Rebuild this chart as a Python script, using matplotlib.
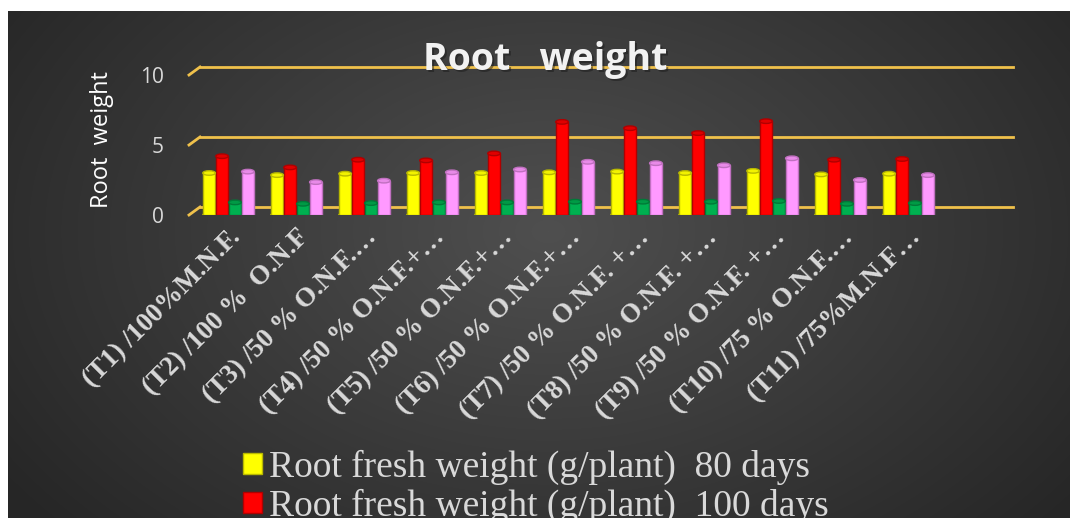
import numpy as np
import matplotlib
matplotlib.use('Agg')
import matplotlib.pyplot as plt
from matplotlib.patches import Ellipse, Patch

# treatment labels as shown on the category axis (truncated)
treatments = ['(T1) /100%M.N.F.', '(T2) /100 %  O.N.F', '(T3) /50 % O.N.F.…',
              '(T4) /50 % O.N.F.+…', '(T5) /50 % O.N.F.+…', '(T6) /50 % O.N.F.+…',
              '(T7) /50 % O.N.F. +…', '(T8) /50 % O.N.F. +…', '(T9) /50 % O.N.F. +…',
              '(T10) /75 % O.N.F.…', '(T11) /75%M.N.F…']

fresh_80 = [3.0, 2.85, 2.95, 3.0, 3.0, 3.05, 3.1, 3.0, 3.15, 2.9, 2.95]
fresh_100 = [4.2, 3.4, 3.95, 3.9, 4.4, 6.65, 6.2, 5.85, 6.7, 3.95, 4.0]
dry_80 = [0.9, 0.8, 0.85, 0.9, 0.9, 0.95, 0.95, 0.95, 1.0, 0.8, 0.85]
dry_100 = [3.1, 2.35, 2.45, 3.05, 3.25, 3.8, 3.7, 3.55, 4.05, 2.5, 2.85]

series = [fresh_80, fresh_100, dry_80, dry_100]
series_names = ['Root fresh weight (g/plant)  80 days',
                'Root fresh weight (g/plant)  100 days',
                'Root dry weight (g/plant)  80 days',
                'Root dry weight (g/plant)  100 days']
colors = ['#ffff00', '#ff0000', '#00b050', '#ff99ff']
edges = ['#b8b800', '#b00000', '#007a38', '#c070c0']
tops = ['#f2f200', '#e00000', '#009a45', '#e88ae8']

W, H = 1070, 518
fig = plt.figure(figsize=(W / 100, H / 100), dpi=100, facecolor='white')

# dark radial background panel
bg = fig.add_axes([8 / W, 0, 1 - 8 / W, 1 - 11 / H])
bg.set_axis_off()
yy, xx = np.mgrid[0:507, 0:1062]
r = np.sqrt(((xx - 540) / 620) ** 2 + ((yy - 220) / 420) ** 2)
shade = np.clip(0.31 - 0.15 * r, 0.15, 0.31)
bg.imshow(np.dstack([shade] * 3), aspect='auto', extent=[0, 1, 0, 1], origin='upper')
bg.set_xlim(0, 1)
bg.set_ylim(0, 1)

# plot area in pixel terms: value 0 at y=215, 14 px per unit, groups 68 px apart
px_unit = 14.0
x0_px, step_px = 228.5, 68.0
left_px, right_px = 189, 1013
ytop = 11.0
ax = fig.add_axes([left_px / W, (H - 215) / H, (right_px - left_px) / W, ytop * px_unit / H])
ax.set_facecolor('none')
ax.set_xlim((left_px - x0_px) / step_px, (right_px - x0_px) / step_px)
ax.set_ylim(0, ytop)
for s in ax.spines.values():
    s.set_visible(False)

# back-wall gridlines with the short depth stub at the left
dx = 11 / step_px
dy = 8 / px_unit
xl, xr = ax.get_xlim()
for v in [0, 5, 10]:
    ax.plot([xl, xl + dx], [v, v + dy], color='#f0c14b', lw=2, zorder=1, clip_on=False)
    ax.plot([xl + dx, xr], [v + dy, v + dy], color='#f0c14b', lw=2, zorder=1, clip_on=False)

x = np.arange(len(treatments))
bw = 0.185
gap = 0.19
eh = 4.5 / px_unit
for k, vals in enumerate(series):
    pos = x + (k - 1.5) * gap
    ax.bar(pos, vals, width=bw, color=colors[k], edgecolor=edges[k], linewidth=1.0, zorder=3)
    for p, v in zip(pos, vals):
        ax.add_patch(Ellipse((p, 0), bw, eh, facecolor=colors[k], edgecolor=edges[k],
                             lw=1.0, zorder=2.9))
        ax.add_patch(Ellipse((p, v), bw, eh, facecolor=tops[k], edgecolor=edges[k],
                             lw=1.0, zorder=3.1))

ax.set_yticks([0, 5, 10])
ax.set_yticklabels(['0', '5', '10'], color='#d9d9d9', fontsize=15, family='Open Sans')
ax.tick_params(axis='y', length=0, pad=18)
ax.set_xticks(x)
ax.set_xticklabels(treatments, rotation=45, ha='right', va='top', rotation_mode='anchor',
                   color='#d9d9d9', fontsize=19.5, fontweight='bold', family='Liberation Serif')
ax.tick_params(axis='x', length=0, pad=7)

fig.text(102 / W, 1 - 140 / H, 'Root  weight', rotation=90, ha='center', va='center',
         color='white', fontsize=17, family='Open Sans')

# title with a soft drop shadow
title_kw = dict(ha='center', va='center', fontsize=27, fontweight='bold', family='Open Sans')
fig.text(547 / W, 1 - 62 / H, 'Root   weight', color='#1a1a1a', alpha=0.5, **title_kw)
fig.text(545 / W, 1 - 60 / H, 'Root   weight', color='#f2f2f2', **title_kw)

handles = [Patch(facecolor=c, edgecolor=e) for c, e in zip(colors, edges)]
fig.legend(handles, series_names, loc='upper left', bbox_to_anchor=(224 / W, 1 - 431 / H),
           frameon=False, prop={'family': 'Liberation Serif', 'size': 27},
           labelcolor='#d9d9d9', handlelength=0.5, handleheight=0.5, handletextpad=0.2,
           labelspacing=0.1, borderpad=0)

fig.savefig('out.png', dpi=100, facecolor='white')
